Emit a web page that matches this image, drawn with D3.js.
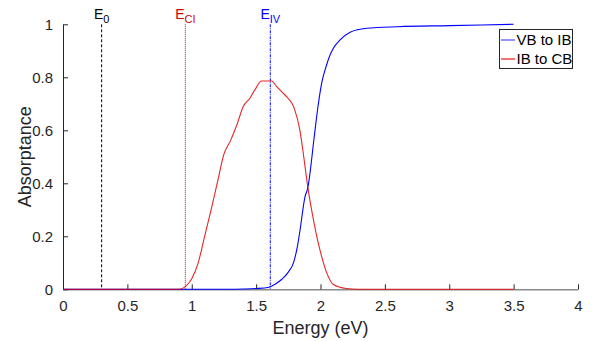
<!DOCTYPE html>
<html><head><meta charset="utf-8">
<script src="https://cdn.jsdelivr.net/npm/d3@7"></script>
<style>
body{margin:0;background:#fff;}
svg{font-family:"Liberation Sans",Arial,Helvetica,sans-serif;}
</style></head>
<body><svg id="c" width="592" height="341"></svg>
<script>
const xTicks=[0,0.5,1,1.5,2,2.5,3,3.5,4];
const yTicks=[0,0.2,0.4,0.6,0.8,1];
const xTickLabels=["0","0.5","1","1.5","2","2.5","3","3.5","4"];
const yTickLabels=["0","0.2","0.4","0.6","0.8","1"];
const seriesNames=["VB to IB","IB to CB"];
const seriesColors=["#0000ff","#e00000"];
// VB to IB
const vbE=[0,1.3,1.4,1.5,1.6,1.65,1.7,1.75,1.79,1.82,1.84,1.88,1.9,1.95,1.975,2.01,2.04,2.074,2.1,2.15,2.23,2.36,2.6,3.0,3.5];
const vbA=[0,0,0.001,0.003,0.008,0.02,0.038,0.065,0.1,0.16,0.22,0.35,0.38,0.57,0.67,0.78,0.835,0.884,0.91,0.94,0.97,0.985,0.991,0.995,1.0];
// IB to CB
const ibE=[0,0.9,0.95,1.0,1.05,1.1,1.15,1.2,1.25,1.3,1.35,1.4,1.45,1.5,1.54,1.62,1.66,1.7,1.75,1.78,1.8,1.84,1.87,1.9,1.95,2.0,2.05,2.1,2.2,2.3,3.5];
const ibA=[0,0,0.01,0.04,0.1,0.2,0.3,0.405,0.51,0.56,0.62,0.69,0.72,0.76,0.786,0.786,0.765,0.745,0.72,0.70,0.677,0.60,0.50,0.39,0.25,0.14,0.06,0.018,0.003,0,0];
const levels=[{name:"0",x:0.3,color:"#000000",dash:"3,2"},{name:"CI",x:0.95,color:"#d00000",dash:"1,1"},{name:"IV",x:1.61,color:"#0000ff",dash:"3,1,1,1"}];

const svg=d3.select("#c");
const x=d3.scaleLinear().domain([0,4]).range([63,578]);
const y=d3.scaleLinear().domain([0,1]).range([289.3,24.3]);

// level lines
levels.forEach(l=>{
  svg.append("line").attr("x1",x(l.x)).attr("x2",x(l.x)).attr("y1",y(1)).attr("y2",y(0))
    .attr("stroke",l.color).attr("stroke-width",1).attr("stroke-dasharray",l.dash);
  const t=svg.append("text").attr("x",x(l.x)).attr("y",y(1)-5).attr("text-anchor","middle")
    .attr("fill",l.color).attr("font-size",14);
  t.append("tspan").text("E");
  t.append("tspan").attr("font-size",11).attr("dy",4).text(l.name);
});

// axes
const xAxis=d3.axisBottom(x).tickValues(xTicks).tickFormat((d,i)=>xTickLabels[i]).tickSizeInner(-5).tickSizeOuter(0).tickPadding(11);
const gx=svg.append("g").attr("transform",`translate(0,${y(0)})`).call(xAxis);
gx.select(".domain").attr("stroke","#8a8a8a").attr("stroke-width",1.5);
gx.selectAll(".tick line").attr("stroke","#262626");
gx.selectAll("text").attr("font-size",15).attr("fill","#262626").attr("font-family","Liberation Sans,Arial,sans-serif");
const yAxis=d3.axisLeft(y).tickValues(yTicks).tickFormat((d,i)=>yTickLabels[i]).tickSizeInner(-5).tickSizeOuter(0).tickPadding(10);
const gy=svg.append("g").attr("transform",`translate(${x(0)},0)`).call(yAxis);
gy.select(".domain").attr("stroke","#262626");
gy.selectAll(".tick line").attr("stroke","#262626");
gy.selectAll("text").attr("font-size",15).attr("fill","#262626").attr("font-family","Liberation Sans,Arial,sans-serif");

// curves
const line=d3.line().x(d=>x(d[0])).y(d=>y(d[1])).curve(d3.curveMonotoneX);
svg.append("path").datum(vbE.map((e,i)=>[e,vbA[i]])).attr("d",line).attr("fill","none")
  .attr("stroke",seriesColors[0]).attr("stroke-width",1.1);
svg.append("path").datum(ibE.map((e,i)=>[e,ibA[i]])).attr("d",line).attr("fill","none")
  .attr("stroke",seriesColors[1]).attr("stroke-width",1.1).attr("stroke-opacity",0.85);

// axis labels
svg.append("text").attr("x",(x(0)+x(4))/2).attr("y",334).attr("text-anchor","middle")
  .attr("font-size",18).attr("fill","#262626").text("Energy (eV)");
svg.append("text").attr("transform",`translate(31,${(y(0)+y(1))/2}) rotate(-90)`).attr("text-anchor","middle")
  .attr("font-size",18).attr("fill","#262626").text("Absorptance");

// legend
const lg=svg.append("g");
lg.append("rect").attr("x",499.5).attr("y",29.5).attr("width",73).attr("height",39)
  .attr("fill","#fff").attr("stroke","#262626").attr("stroke-width",1);
seriesNames.forEach((n,i)=>{
  const yy=40+i*19;
  lg.append("line").attr("x1",501).attr("x2",515).attr("y1",yy).attr("y2",yy)
    .attr("stroke",seriesColors[i]).attr("stroke-width",i?2:1.2).attr("stroke-opacity",i?0.55:0.7);
  lg.append("text").attr("x",516.5).attr("y",yy+5).attr("font-size",15).attr("fill","#000").text(n);
});
</script></body></html>
